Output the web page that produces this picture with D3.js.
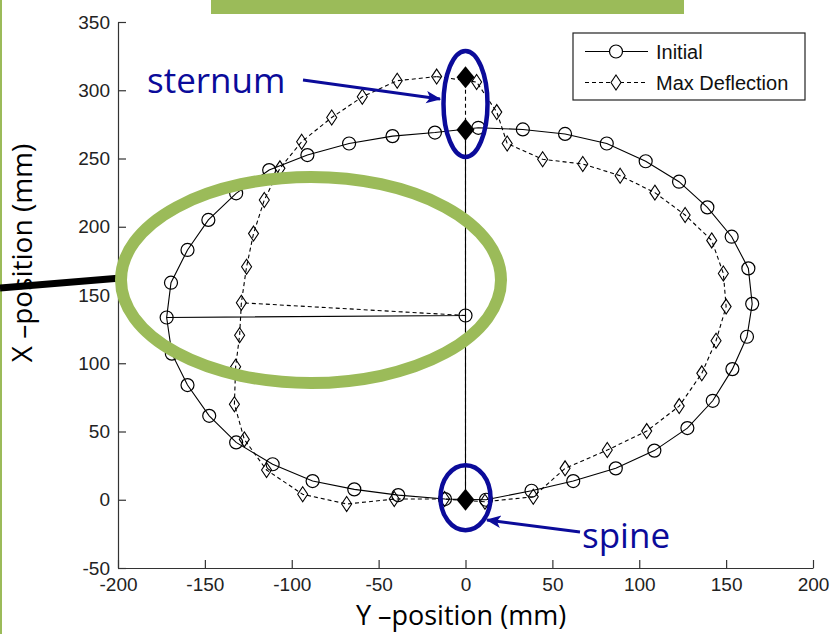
<!DOCTYPE html>
<html>
<head>
<meta charset="utf-8">
<script src="https://cdn.jsdelivr.net/npm/d3@7"></script>
<style>
  body { margin: 0; background: #fff; }
  .axis text { font-family: "Liberation Sans", Arial, sans-serif; font-size: 19px; fill: #222; }
  .axis path, .axis line { stroke: #333; stroke-width: 1.2; }
</style>
</head>
<body>
<svg width="837" height="634"></svg>
<script>
// Initial cross-section, [Y-position, X-position] in mm
var initialPts = [
  [7.4,272.5],[-17.6,269],[-42,266.4],[-67,261],[-91,252.5],[-113,241.5],[-132,224.5],
  [-148,205],[-160,183],[-169.5,159],[-172,133.5],[-169,107],[-160,84],[-147.5,61.5],
  [-132,42],[-111,26],[-88,13.7],[-64,7.6],[-38.7,3.4],[-11.8,0.5],[11.8,0],[38,6.6],
  [62,13.7],[86.5,23],[108.7,36],[127.7,52.5],[142.3,72.5],[153.6,95.7],[162,119.4],
  [165,143.5],[162.8,169.5],[153.2,192.7],[139.2,214.2],[122.9,233],[103.7,248],
  [81.3,261],[57.3,268],[33,271.3]
];
// Max deflection cross-section
var maxPts = [
  [-16.6,310],[-39.3,307],[-59.4,295.2],[-77,280],[-94.3,262.3],[-106.8,242.8],
  [-115.8,219.6],[-122,195],[-126,170.7],[-129,144.3],[-130,120.5],[-132.3,97.4],
  [-133,70],[-127.3,44.2],[-114.5,21.8],[-93.7,4],[-68.4,-3.1],[-41,0.5],[-12,0.5],
  [11.2,-1.5],[39,2.2],[57.3,23],[81.6,36.4],[104.3,50.3],[123,68.6],[136,92.6],
  [144.2,116.5],[150,141.5],[148.4,165.8],[141.7,190],[126.4,208.6],[109,225],
  [89,237.4],[67.5,246],[44.4,249.4],[24,261],[18,284],[6.4,306]
];
// internal lines (spine-sternum and centre to side)
var initialSpoke = [[0,0],[0,271],[0,135],[-172,133.5]];
var initialCentre = [0,135];
var maxVertical = [[0,0],[0,309.5]];
var maxSpoke = [[0,135],[-129,144.3]];
// spine / sternum landmarks (filled diamonds)
var landmarks = [[0,0],[0,271],[0,309.5]];

var xTicks = [-200,-150,-100,-50,0,50,100,150,200];
var yTicks = [-50,0,50,100,150,200,250,300,350];
var legendLabels = ["Initial", "Max Deflection"];

var svg = d3.select("svg");
var green = "#9BBB59", blue = "#0B0B9A";

var x = d3.scaleLinear().domain([-200,200]).range([118,813]);
var y = d3.scaleLinear().domain([-50,350]).range([568,22]);

function plain(d) { return String(d); }

// axes, ticks pointing inward
svg.append("g")
    .attr("class","axis")
    .attr("transform","translate(0,568)")
    .call(d3.axisBottom(x).tickValues(xTicks).tickFormat(plain)
        .tickSizeInner(-8).tickSizeOuter(0).tickPadding(10));
svg.append("g")
    .attr("class","axis")
    .attr("transform","translate(118,0)")
    .call(d3.axisLeft(y).tickValues(yTicks).tickFormat(plain)
        .tickSizeInner(-8).tickSizeOuter(0).tickPadding(8));

var openLine = d3.line().x(function(d){ return x(d[0]); }).y(function(d){ return y(d[1]); });
var loopLine = d3.line().x(function(d){ return x(d[0]); }).y(function(d){ return y(d[1]); })
    .curve(d3.curveLinearClosed);

// max deflection (dashed)
svg.append("path").attr("d", loopLine(maxPts))
    .attr("fill","none").attr("stroke","#000").attr("stroke-width",1.1).attr("stroke-dasharray","4,3");
svg.append("path").attr("d", openLine(maxVertical))
    .attr("fill","none").attr("stroke","#000").attr("stroke-width",1.1).attr("stroke-dasharray","4,3");
svg.append("path").attr("d", openLine(maxSpoke))
    .attr("fill","none").attr("stroke","#000").attr("stroke-width",1.1).attr("stroke-dasharray","4,3");

// initial (solid)
svg.append("path").attr("d", loopLine(initialPts))
    .attr("fill","none").attr("stroke","#000").attr("stroke-width",1.1);
svg.append("path").attr("d", openLine(initialSpoke))
    .attr("fill","none").attr("stroke","#000").attr("stroke-width",1.1);

function diamond(w, h) {
  return "M0," + (-h) + "L" + w + ",0L0," + h + "L" + (-w) + ",0Z";
}

svg.selectAll(".dia").data(maxPts).enter().append("path")
    .attr("class","dia")
    .attr("transform", function(d){ return "translate(" + x(d[0]) + "," + y(d[1]) + ")"; })
    .attr("d", diamond(5,7.5))
    .attr("fill","none").attr("stroke","#000").attr("stroke-width",1.1);

svg.selectAll(".circ").data(initialPts.concat([initialCentre])).enter().append("circle")
    .attr("class","circ")
    .attr("cx", function(d){ return x(d[0]); })
    .attr("cy", function(d){ return y(d[1]); })
    .attr("r", 6.5)
    .attr("fill","none").attr("stroke","#000").attr("stroke-width",1.2);

svg.selectAll(".land").data(landmarks).enter().append("path")
    .attr("class","land")
    .attr("transform", function(d){ return "translate(" + x(d[0]) + "," + y(d[1]) + ")"; })
    .attr("d", diamond(9,11))
    .attr("fill","#000");

// legend
var lg = svg.append("g").attr("transform","translate(573,33)");
lg.append("rect").attr("width",232).attr("height",67)
    .attr("fill","#fff").attr("stroke","#222").attr("stroke-width",1.2);
legendLabels.forEach(function(lab, i) {
  var ly = 18.5 + i * 31;
  lg.append("line").attr("x1",12).attr("x2",75).attr("y1",ly).attr("y2",ly)
      .attr("stroke","#000").attr("stroke-width",1.1)
      .attr("stroke-dasharray", i ? "4,3" : null);
  if (i == 0) {
    lg.append("circle").attr("cx",43).attr("cy",ly).attr("r",6.5)
        .attr("fill","#fff").attr("stroke","#000").attr("stroke-width",1.2);
  } else {
    lg.append("path").attr("transform","translate(43," + ly + ")").attr("d", diamond(5,7.5))
        .attr("fill","#fff").attr("stroke","#000").attr("stroke-width",1.1);
  }
  lg.append("text").attr("x",83).attr("y",ly + 7.5)
      .style("font-family","Liberation Sans, Arial, sans-serif").style("font-size","20px")
      .attr("fill","#111").text(lab);
});

// axis titles
svg.append("text")
    .attr("x",461).attr("y",625)
    .style("text-anchor","middle")
    .style("font-family","Open Sans, sans-serif").style("font-size","27px")
    .text("Y \u2013position (mm)");
svg.append("text")
    .attr("transform","rotate(-90)")
    .attr("x",-253).attr("y",32)
    .style("text-anchor","middle")
    .style("font-family","Open Sans, sans-serif").style("font-size","28px")
    .text("X \u2013position (mm)");

// slide decorations
svg.append("rect").attr("x",211).attr("y",0).attr("width",473).attr("height",14).attr("fill",green);
svg.append("rect").attr("x",0).attr("y",0).attr("width",2).attr("height",634).attr("fill",green);
svg.append("line").attr("x1",0).attr("y1",288).attr("x2",121).attr("y2",278)
    .attr("stroke","#000").attr("stroke-width",7);
svg.append("ellipse").attr("cx",311).attr("cy",280).attr("rx",190).attr("ry",103)
    .attr("fill","none").attr("stroke",green).attr("stroke-width",12);

// sternum / spine callouts
svg.append("defs").append("marker")
    .attr("id","arr").attr("viewBox","0 0 12 10").attr("refX",11).attr("refY",5)
    .attr("markerWidth",5).attr("markerHeight",5).attr("orient","auto")
    .attr("markerUnits","strokeWidth")
  .append("path").attr("d","M0,0L12,5L0,10L3,5Z").attr("fill",blue);

svg.append("ellipse").attr("cx",x(0)).attr("cy",y(290)).attr("rx",22).attr("ry",53)
    .attr("fill","none").attr("stroke",blue).attr("stroke-width",4.5);
svg.append("ellipse").attr("cx",x(0)).attr("cy",y(1.5)).attr("rx",25).attr("ry",32.5)
    .attr("fill","none").attr("stroke",blue).attr("stroke-width",4.5);

svg.append("line").attr("x1",303).attr("y1",80).attr("x2",440).attr("y2",99)
    .attr("stroke",blue).attr("stroke-width",3).attr("marker-end","url(#arr)");
svg.append("line").attr("x1",580).attr("y1",532).attr("x2",487).attr("y2",520)
    .attr("stroke",blue).attr("stroke-width",3).attr("marker-end","url(#arr)");

svg.append("text").attr("x",147).attr("y",93)
    .style("font-family","Open Sans, sans-serif").style("font-size","35px")
    .attr("fill",blue).text("sternum");
svg.append("text").attr("x",582).attr("y",548)
    .style("font-family","Open Sans, sans-serif").style("font-size","35px")
    .attr("fill",blue).text("spine");
</script>
</body>
</html>
